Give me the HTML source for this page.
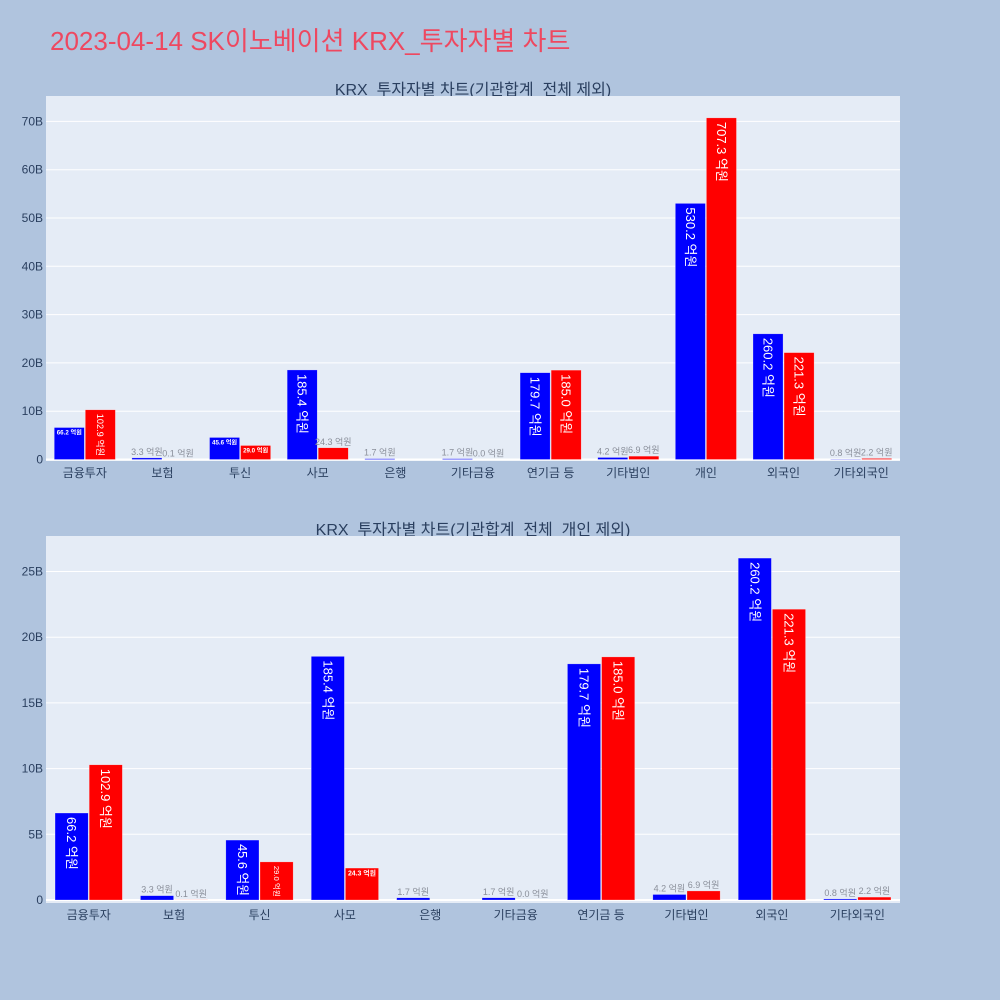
<!DOCTYPE html>
<html><head><meta charset="utf-8">
<style>
body{margin:0;background:#b0c4de;}
svg{display:block;font-family:"Liberation Sans","Noto Sans CJK KR",sans-serif;}
</style></head>
<body>
<svg id="chart" width="1000" height="1000" xmlns="http://www.w3.org/2000/svg">
<rect width="1000" height="1000" fill="#b0c4de"/>
<text x="50" y="50" font-size="26" fill="#ee4860">2023-04-14 SK이노베이션 KRX_투자자별 차트</text>
<text x="473" y="95" font-size="16" fill="#2a3f5f" text-anchor="middle">KRX_투자자별 차트(기관합계_전체 제외)</text>
<text x="473" y="535" font-size="16" fill="#2a3f5f" text-anchor="middle">KRX_투자자별 차트(기관합계_전체_개인 제외)</text>
<g id="top"></g>
<g id="bottom"></g>
</svg>
<script>
const categories = ["금융투자","보험","투신","사모","은행","기타금융","연기금 등","기타법인","개인","외국인","기타외국인"];
const buyValues = [66.2,3.3,45.6,185.4,1.7,1.7,179.7,4.2,530.2,260.2,0.8];
const sellValues = [102.9,0.1,29.0,24.3,null,0.0,185.0,6.9,707.3,221.3,2.2];
const topTicks = [0,10,20,30,40,50,60,70];
const bottomTicks = [0,5,10,15,20,25];
const NS="http://www.w3.org/2000/svg";

function mk(tag,attrs,parent){const e=document.createElementNS(NS,tag);for(const k in attrs)e.setAttribute(k,attrs[k]);parent.appendChild(e);return e;}
function textLen(s){let w=0;for(const c of s){w+= /[\uAC00-\uD7A3]/.test(c)?13:(c==' '?3.6:(c=='.'?3.6:7.2));}return w;}

function draw(gid,cats,buy,sell,ticks,top,bottom,zeroY,pxPerB){
  const g=document.getElementById(gid);
  const x0=46,x1=900;
  const plot=mk('rect',{x:x0,y:top,width:x1-x0,height:bottom-top,fill:'#e5ecf6'},g);
  
  
  const y=v=>zeroY-v*pxPerB;
  ticks.forEach(t=>{
    const l=mk('line',{x1:x0,x2:x1,y1:y(t),y2:y(t),stroke:'#fff','stroke-width':t==0?2:1},g);
    
    
    const tx=mk('text',{x:43,y:y(t)+4,'font-size':12,fill:'#2a3f5f','text-anchor':'end'},g);
    tx.textContent=t==0?'0':t+'B';
    
    
  });
  const n=cats.length, step=(x1-x0)/n, bw=step*0.4;
  cats.forEach((c,i)=>{
    const cx=x0+step*(i+0.5);
    const lab=mk('text',{x:cx,y:bottom+16,'font-size':12,fill:'#2a3f5f','text-anchor':'middle'},g);
    lab.textContent=c;
    
    
    [[buy[i],cx-bw,'#0000ff','bar-buy'],[sell[i],cx,'#ff0000','bar-sell']].forEach(([v,bx,col,nm])=>{
      if(v===null)return;
      const b=v/10, h=b*pxPerB, yt=y(b);
      const r=mk('rect',{x:bx+0.5,y:yt,width:bw-1,height:Math.max(h,0),fill:col,stroke:'rgba(255,255,255,0.5)','stroke-width':0.5},g);
      
      
      const s=v.toFixed(1)+' 억원', L=textLen(s), w=bw-1;
      const sr=Math.min(1,(h-6)/L,(w-4)/13), sh=Math.min(1,(w-4)/L,(h-4)/13);
      let t;
      if(h<13){
        t=mk('text',{x:bx+bw/2,y:yt-3,'font-size':9,fill:'#8a8f9a','text-anchor':'middle'},g);
      } else if(sr>=sh){
        const fs=13*sr, tx=bx+bw/2, ty=yt+4;
        t=mk('text',{x:tx,y:ty,'font-size':fs,fill:'#fff','text-anchor':'start',transform:`rotate(90 ${tx} ${ty}) translate(0 ${fs*0.35})`},g);
      } else {
        const fs=13*sh;
        t=mk('text',{x:bx+bw/2,y:yt+2+fs*0.8,'font-size':fs,fill:'#fff','text-anchor':'middle','font-weight':'bold'},g);
      }
      t.textContent=s;
      
      
    });
  });
}
draw('top',categories,buyValues,sellValues,topTicks,96,461,459.5,4.83);
const idx=categories.map((c,i)=>i).filter(i=>categories[i]!=="개인");
draw('bottom',idx.map(i=>categories[i]),idx.map(i=>buyValues[i]),idx.map(i=>sellValues[i]),bottomTicks,536,903,900,13.14);
</script>
</body></html>
